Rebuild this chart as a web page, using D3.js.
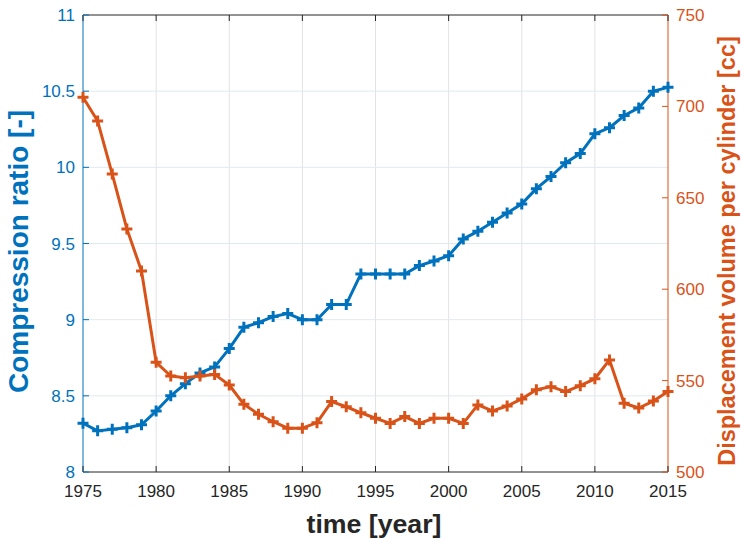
<!DOCTYPE html>
<html><head><meta charset="utf-8">
<script src="https://cdn.jsdelivr.net/npm/d3@7"></script>
<style>body{margin:0;background:#fff}svg{display:block;font-family:"Liberation Sans",Arial,sans-serif}</style>
</head><body><svg id="c" width="742" height="539"></svg>
<script>
const years = d3.range(1975, 2016);
const compressionRatio = [8.32,8.27,8.28,8.29,8.31,8.40,8.50,8.58,8.65,8.69,8.81,8.95,8.98,9.02,9.04,9.00,9.00,9.10,9.10,9.30,9.30,9.30,9.30,9.355,9.385,9.42,9.53,9.58,9.64,9.70,9.76,9.86,9.94,10.03,10.09,10.22,10.26,10.34,10.39,10.50,10.525];
const displacement = [705,692,663,633,610,560,552.5,551.6,552.5,553.4,547.6,537,531.6,527.5,524,524,527,538.5,535.7,532.4,529.4,526.6,530.3,526.6,529.4,529.4,526.6,536.7,533.4,536.1,540,545,546.7,544,547.2,551,561.3,537.6,535,538.8,544];
const xTicks = [1975,1980,1985,1990,1995,2000,2005,2010,2015];
const leftTicks = [8,8.5,9,9.5,10,10.5,11];
const rightTicks = [500,550,600,650,700,750];

const BLUE = "#0072BD", ORANGE = "#D95319", DARK = "#262626";
const L = 83, R = 668, T = 15, B = 472;
const svg = d3.select("#c");
const x = d3.scaleLinear().domain([1975, 2015]).range([L, R]);
const yL = d3.scaleLinear().domain([8, 11]).range([B, T]);
const yR = d3.scaleLinear().domain([500, 750]).range([B, T]);

// grid
svg.append("g").selectAll("line").data(xTicks.slice(1, -1)).join("line")
  .attr("x1", d => x(d)).attr("x2", d => x(d)).attr("y1", T).attr("y2", B)
  .attr("stroke", "#e3e3e3").attr("stroke-width", 1);
svg.append("g").selectAll("line").data(leftTicks.slice(1, -1)).join("line")
  .attr("x1", L).attr("x2", R).attr("y1", d => yL(d)).attr("y2", d => yL(d))
  .attr("stroke", "#e1e9f0").attr("stroke-width", 1);

// axes frame
svg.append("line").attr("x1", L).attr("x2", R).attr("y1", B).attr("y2", B).attr("stroke", DARK).attr("stroke-width", 1);
svg.append("line").attr("x1", L).attr("x2", R).attr("y1", T).attr("y2", T).attr("stroke", DARK).attr("stroke-width", 1);
svg.append("line").attr("x1", L).attr("x2", L).attr("y1", T).attr("y2", B).attr("stroke", BLUE).attr("stroke-width", 1);
svg.append("line").attr("x1", R).attr("x2", R).attr("y1", T).attr("y2", B).attr("stroke", ORANGE).attr("stroke-width", 1);

// ticks (inward)
const tk = 6;
svg.append("g").selectAll("line").data(xTicks).join("line")
  .attr("x1", d => x(d)).attr("x2", d => x(d)).attr("y1", B).attr("y2", B - tk).attr("stroke", DARK);
svg.append("g").selectAll("line").data(xTicks).join("line")
  .attr("x1", d => x(d)).attr("x2", d => x(d)).attr("y1", T).attr("y2", T + tk).attr("stroke", DARK);
svg.append("g").selectAll("line").data(leftTicks).join("line")
  .attr("x1", L).attr("x2", L + tk).attr("y1", d => yL(d)).attr("y2", d => yL(d)).attr("stroke", BLUE);
svg.append("g").selectAll("line").data(rightTicks).join("line")
  .attr("x1", R).attr("x2", R - tk).attr("y1", d => yR(d)).attr("y2", d => yR(d)).attr("stroke", ORANGE);

// tick labels
svg.append("g").selectAll("text").data(xTicks).join("text")
  .attr("x", d => x(d)).attr("y", 497).attr("text-anchor", "middle")
  .attr("font-size", 17).attr("fill", DARK).text(d => d);
svg.append("g").selectAll("text").data(leftTicks).join("text")
  .attr("x", 75).attr("y", d => yL(d) + 6).attr("text-anchor", "end")
  .attr("font-size", 17).attr("fill", BLUE).text(d => d3.format("")(d));
svg.append("g").selectAll("text").data(rightTicks).join("text")
  .attr("x", 676).attr("y", d => yR(d) + 6).attr("text-anchor", "start")
  .attr("font-size", 17).attr("fill", ORANGE).text(d => d);

// axis labels
svg.append("text").attr("x", 374).attr("y", 533).attr("text-anchor", "middle")
  .attr("font-size", 26.7).attr("font-weight", "bold").attr("fill", DARK).text("time [year]");
svg.append("text").attr("transform", "translate(28,251.5) rotate(-90)").attr("text-anchor", "middle")
  .attr("font-size", 28).attr("font-weight", "bold").attr("fill", BLUE).text("Compression ratio [-]");
svg.append("text").attr("transform", "translate(735,251) rotate(-90)").attr("text-anchor", "middle")
  .attr("font-size", 23.5).attr("font-weight", "bold").attr("fill", ORANGE).text("Displacement volume per cylinder [cc]");

// series
function drawSeries(vals, y, color) {
  const pts = years.map((yr, i) => [x(yr), y(vals[i])]);
  svg.append("path").attr("d", d3.line()(pts)).attr("fill", "none")
    .attr("stroke", color).attr("stroke-width", 3).attr("stroke-linejoin", "round");
  const m = 5.5;
  svg.append("g").selectAll("path").data(pts).join("path")
    .attr("d", p => `M${p[0]-m},${p[1]}H${p[0]+m}M${p[0]},${p[1]-m}V${p[1]+m}`)
    .attr("stroke", color).attr("stroke-width", 3).attr("fill", "none");
}
drawSeries(compressionRatio, yL, BLUE);
drawSeries(displacement, yR, ORANGE);
</script></body></html>
